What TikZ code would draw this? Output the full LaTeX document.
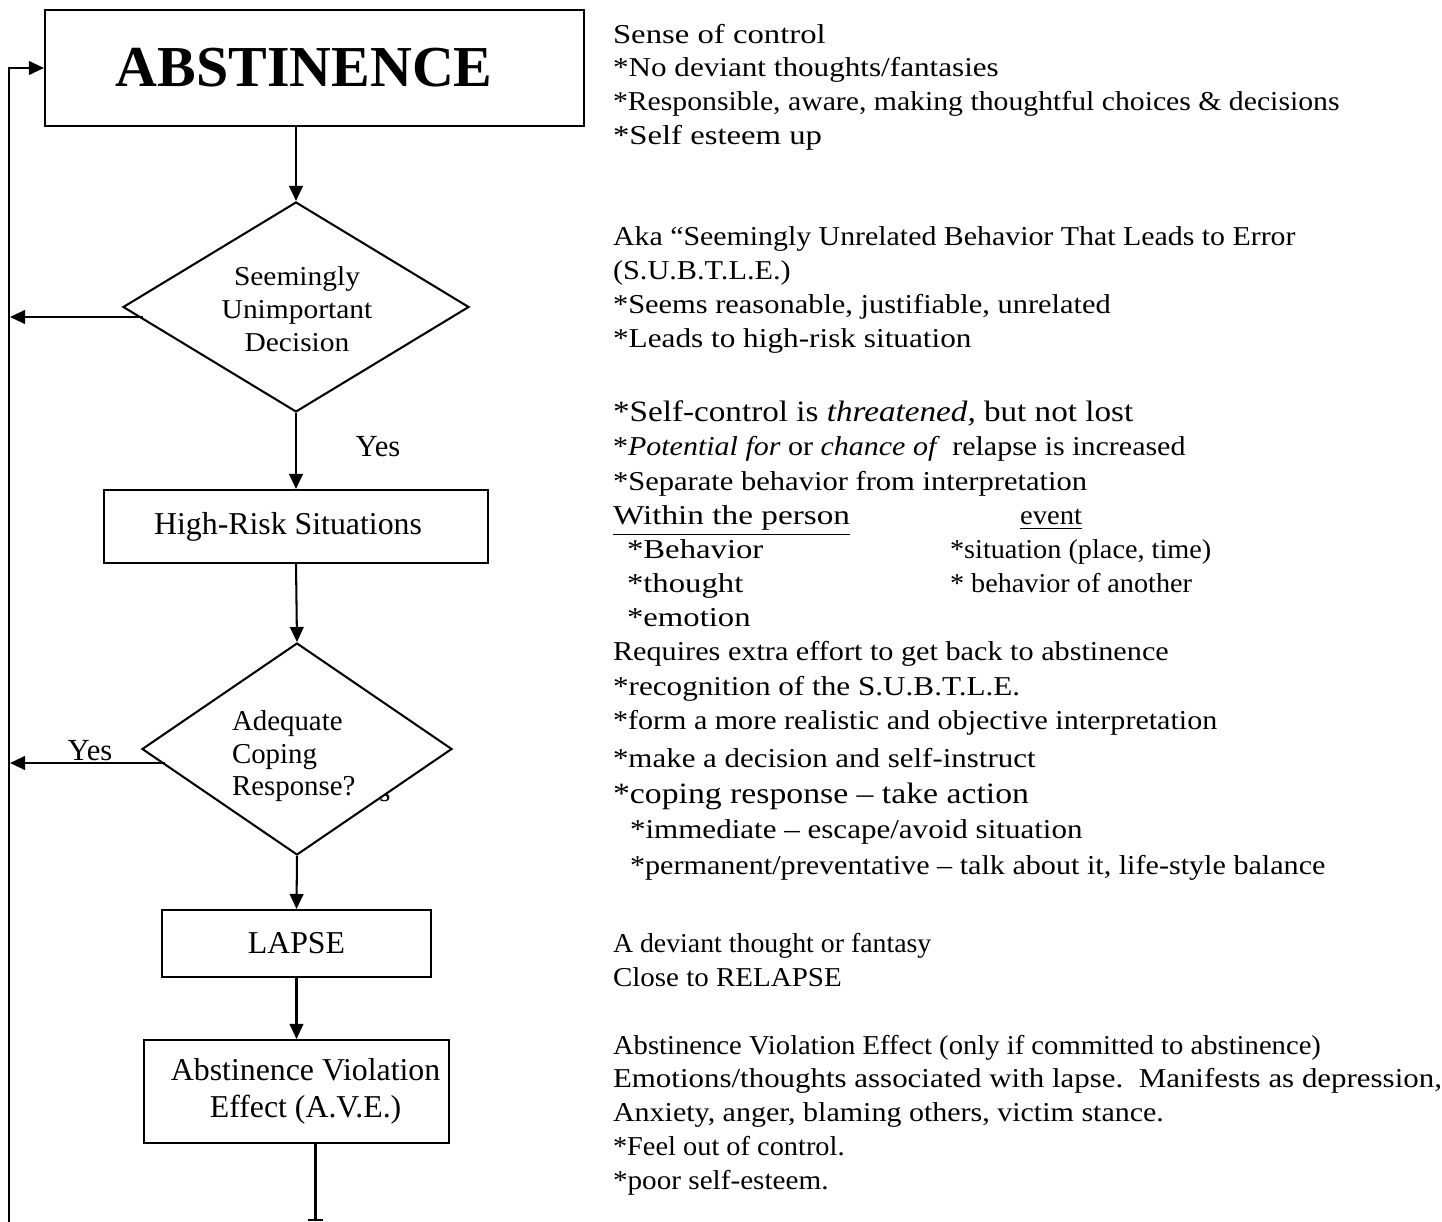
\documentclass[tikz,border=0pt]{standalone}
\usepackage{fontspec}
\usepackage{graphicx}
\setmainfont{Liberation Serif}
\usetikzlibrary{arrows.meta,shapes.geometric,calc}
\newcommand{\hs}[2]{\scalebox{#1}[1]{#2}}
\begin{document}
\begin{tikzpicture}[x=0.44pt,y=-0.44pt,
  line width=0.9pt,
  arr/.style={-{Triangle[length=6.6pt,width=6pt]}},
  boxnode/.style={draw,fill=white,inner sep=0,align=center},
  dia/.style={draw,fill=white,shape=diamond,inner sep=0},
  rt/.style={anchor=base west,inner sep=0,font=\fontsize{12}{14}\selectfont},
  rtb/.style={anchor=base west,inner sep=0,font=\fontsize{13}{15}\selectfont},
  lbl/.style={inner sep=0,font=\fontsize{13.5}{15}\selectfont}]
\useasboundingbox (0,0) rectangle (1442,1222);
\fill[white] (0,0) rectangle (1442,1222);
% boxes
\node[boxnode,minimum width=539*0.44pt,minimum height=116*0.44pt,font=\fontsize{25.5}{28}\selectfont\bfseries] (abs) at (314.5,68) {ABSTINENCE\hspace*{9pt}};
\node[dia,minimum width=346*0.44pt,minimum height=210*0.44pt] (d1) at (296,307) {};
\node[align=center,inner sep=0,font=\fontsize{12}{14.5}\selectfont,anchor=north] (d1t) at (297,266) {\hs{1.08}{Seemingly}\\\hs{1.08}{Unimportant}\\\hs{1.08}{Decision}};
\node[boxnode,minimum width=384*0.44pt,minimum height=73*0.44pt,font=\fontsize{14}{16}\selectfont] (hrs) at (296,526.5) {High-Risk Situations\hspace*{7pt}};
\node[inner sep=0,font=\fontsize{12.5}{14}\selectfont] (hid) at (385,795) {s};
\node[dia,minimum width=310*0.44pt,minimum height=212*0.44pt] (d2) at (297,749) {};
\node[align=left,inner sep=0,font=\fontsize{12.7}{14.5}\selectfont,anchor=north west] (d2t) at (231,709) {Adequate\\Coping\\Response?};
\node[boxnode,minimum width=269*0.44pt,minimum height=67*0.44pt,font=\fontsize{14}{16}\selectfont] (lapse) at (296.5,943.5) {LAPSE};
\node[boxnode,minimum width=305*0.44pt,minimum height=103*0.44pt,font=\fontsize{14}{16.3}\selectfont] (ave) at (296.5,1091.5) {\hspace*{8pt}Abstinence Violation\\\hspace*{8pt}Effect (A.V.E.)};
% main flow
\draw[arr] (abs.south -| d1.north) -- (d1.north);
\draw[arr] (d1.south) -- (hrs.north);
\draw[arr] (hrs.south) -- (d2.north);
\draw[arr] (d2.south) -- (lapse.north);
\draw[arr] (lapse.south) -- (ave.north);
\draw[-{Bar[width=7pt]}] ($(ave.south)+(19,0)$) coordinate (aveout) -- ($(aveout)+(0,77)$) coordinate (aveend);
% loop
\coordinate (loopbot) at (9,1222);
\coordinate (loopturn) at (9,68);
\draw[arr] (loopbot) -- (loopturn) -- (abs.west);
\coordinate (d1out) at (143,317);
\coordinate (d1in) at (10,317);
\draw[arr] (d1out) -- (d1in);
\coordinate (d2out) at (165,763);
\coordinate (d2in) at (10,763);
\draw[arr] (d2out) -- (d2in);
% labels
\node[lbl] (yes1) at (378,447) {Yes};
\node[lbl] (yes2) at (90,751) {Yes};
% right-hand text
\node[rt] (r1) at (612,44) {\hs{1.2}{Sense of control}};
\node[rt] (r2) at (612,77) {\hs{1.142}{*No deviant thoughts/fantasies}};
\node[rt] (r3) at (612,111) {\hs{1.09}{*Responsible, aware, making thoughtful choices \& decisions}};
\node[rt] (r4) at (612,145) {\hs{1.2}{*Self esteem up}};
\node[rt] (s1) at (612,246) {\hs{1.095}{Aka “Seemingly Unrelated Behavior That Leads to Error}};
\node[rt] (s2) at (612,280) {\hs{1.11}{(S.U.B.T.L.E.)}};
\node[rt] (s3) at (612,314) {\hs{1.116}{*Seems reasonable, justifiable, unrelated}};
\node[rt] (s4) at (612,348) {\hs{1.146}{*Leads to high-risk situation}};
\node[rtb] (h1) at (612,422) {\hs{1.123}{*Self-control is \textit{threatened,} but not lost}};
\node[rt] (h2) at (612,456) {\hs{1.10}{*\textit{Potential for} or \textit{chance of}\, relapse is increased}};
\node[rt] (h3) at (612,491) {\hs{1.12}{*Separate behavior from interpretation}};
\node[rt] (h4) at (612,525) {\underline{\hs{1.22}{Within the person}}};
\node[rt] (h5) at (1019,525) {\underline{\hs{1.05}{event}}};
\node[rt] (h6) at (626,558) {\hs{1.2}{*Behavior}};
\node[rt] (h7) at (949,558) {\hs{1.036}{*situation (place, time)}};
\node[rt] (h8) at (626,592) {\hs{1.2}{*thought}};
\node[rt] (h9) at (949,592) {\hs{1.034}{* behavior of another}};
\node[rt] (h10) at (626,626) {\hs{1.2}{*emotion}};
\node[rt] (h11) at (612,660) {\hs{1.108}{Requires extra effort to get back to abstinence}};
\node[rt] (h12) at (612,695) {\hs{1.143}{*recognition of the S.U.B.T.L.E.}};
\node[rt] (h13) at (612,729) {\hs{1.102}{*form a more realistic and objective interpretation}};
\node[rt] (h14) at (612,767) {\hs{1.134}{*make a decision and self-instruct}};
\node[rtb] (h15) at (612,803) {\hs{1.142}{*coping response -- take action}};
\node[rt] (h16) at (629,838) {\hs{1.138}{*immediate -- escape/avoid situation}};
\node[rt] (h17) at (629,874) {\hs{1.105}{*permanent/preventative -- talk about it, life-style balance}};
\node[rt] (l1) at (612,952) {\hs{1.02}{A deviant thought or fantasy}};
\node[rt] (l2) at (612,986) {\hs{1.063}{Close to RELAPSE}};
\node[rt] (a1) at (612,1054) {\hs{1.05}{Abstinence Violation Effect (only if committed to abstinence)}};
\node[rt] (a2) at (612,1087) {\hs{1.134}{Emotions/thoughts associated with lapse.\ \ Manifests as depression,}};
\node[rt] (a3) at (612,1121) {\hs{1.1}{Anxiety, anger, blaming others, victim stance.}};
\node[rt] (a4) at (612,1155) {\hs{1.04}{*Feel out of control.}};
\node[rt] (a5) at (612,1189) {\hs{1.07}{*poor self-esteem.}};
\end{tikzpicture}
\end{document}
